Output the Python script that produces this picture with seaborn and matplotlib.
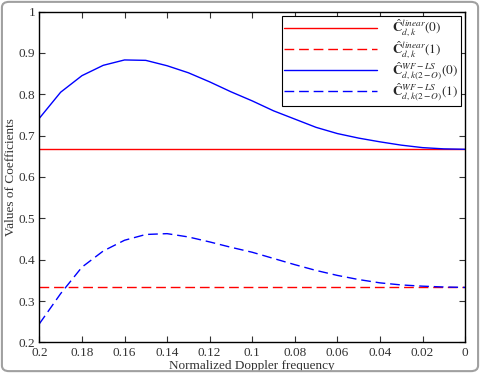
import numpy as np
import pandas as pd
import seaborn as sns
import matplotlib.pyplot as plt
from matplotlib.patches import FancyBboxPatch

# normalized Doppler frequency (x axis, drawn from 0.2 down to 0)
doppler = [0.20, 0.19, 0.18, 0.17, 0.16, 0.15, 0.14, 0.13, 0.12, 0.11, 0.10,
           0.09, 0.08, 0.07, 0.06, 0.05, 0.04, 0.03, 0.02, 0.01, 0.00]

# coefficients
linear_c0 = 0.667
linear_c1 = 0.333
wfls_c0 = [0.742, 0.805, 0.845, 0.870, 0.883, 0.882, 0.869, 0.852, 0.830, 0.806, 0.784,
           0.760, 0.740, 0.720, 0.705, 0.694, 0.685, 0.677, 0.671, 0.668, 0.667]
wfls_c1 = [0.245, 0.318, 0.382, 0.421, 0.447, 0.461, 0.463, 0.455, 0.443, 0.430, 0.418,
           0.403, 0.388, 0.374, 0.362, 0.352, 0.344, 0.339, 0.336, 0.334, 0.333]

labels = [r"$\hat{\mathbf{C}}_{d,k}^{linear}(0)$",
          r"$\hat{\mathbf{C}}_{d,k}^{linear}(1)$",
          r"$\hat{\mathbf{C}}_{d,k(2-O)}^{WF-LS}(0)$",
          r"$\hat{\mathbf{C}}_{d,k(2-O)}^{WF-LS}(1)$"]

x_ticks = [0.2, 0.18, 0.16, 0.14, 0.12, 0.1, 0.08, 0.06, 0.04, 0.02, 0]
x_ticklabels = ["0.2", "0.18", "0.16", "0.14", "0.12", "0.1", "0.08", "0.06", "0.04", "0.02", "0"]
y_ticks = [0.2, 0.3, 0.4, 0.5, 0.6, 0.7, 0.8, 0.9, 1.0]
y_ticklabels = ["0.2", "0.3", "0.4", "0.5", "0.6", "0.7", "0.8", "0.9", "1"]

n = len(doppler)
df = pd.DataFrame({
    "freq": doppler * 4,
    "coef": [linear_c0] * n + [linear_c1] * n + wfls_c0 + wfls_c1,
    "serie": [labels[0]] * n + [labels[1]] * n + [labels[2]] * n + [labels[3]] * n,
})

sns.set_theme(style="ticks")
plt.rcParams["font.family"] = ["Liberation Serif", "DejaVu Serif"]
plt.rcParams["mathtext.fontset"] = "stix"

fig = plt.figure(figsize=(4.8, 3.73), dpi=100)
ax = fig.add_axes([0.082, 0.082, 0.887, 0.887])

cores = {labels[0]: "#ff0000", labels[1]: "#ff0000", labels[2]: "#0000ff", labels[3]: "#0000ff"}
tracos = {labels[0]: "", labels[1]: (7, 3.5), labels[2]: "", labels[3]: (7, 3.5)}
sns.lineplot(data=df, x="freq", y="coef", hue="serie", style="serie",
             palette=cores, dashes=tracos, linewidth=1, ax=ax, sort=False)

ax.set_xlim(0.2, 0)
ax.set_ylim(0.2, 1)
ax.set_xticks(x_ticks)
ax.set_xticklabels(x_ticklabels)
ax.set_yticks(y_ticks)
ax.set_yticklabels(y_ticklabels)
ax.tick_params(direction="in", top=True, right=True, length=4, width=0.8,
               labelsize=9.5, colors="#333333", labelcolor="#333333")
ax.tick_params(axis="x", pad=3)
ax.tick_params(axis="y", pad=3)
for s in ax.spines.values():
    s.set_linewidth(1.0)
    s.set_color("black")
ax.set_xlabel("Normalized Doppler frequency", fontsize=9.5, color="#333333", labelpad=1)
ax.set_ylabel("Values of Coefficients", fontsize=9.5, color="#333333", labelpad=1)

leg = ax.legend(loc="upper right", fontsize=9.5, frameon=True, fancybox=False,
                edgecolor="black", framealpha=1, handlelength=7, labelspacing=0.0,
                borderaxespad=0.3, borderpad=0.2, handletextpad=1.2)
leg.get_frame().set_linewidth(0.8)

# borda arredondada da figura
borda = FancyBboxPatch((0.004, 0.005), 0.992, 0.99, boxstyle="round,pad=0,rounding_size=0.015",
                       transform=fig.transFigure, facecolor="none", edgecolor="#a0a0a0", lw=1.5)
fig.patches.append(borda)

fig.savefig("out.png", dpi=100)
